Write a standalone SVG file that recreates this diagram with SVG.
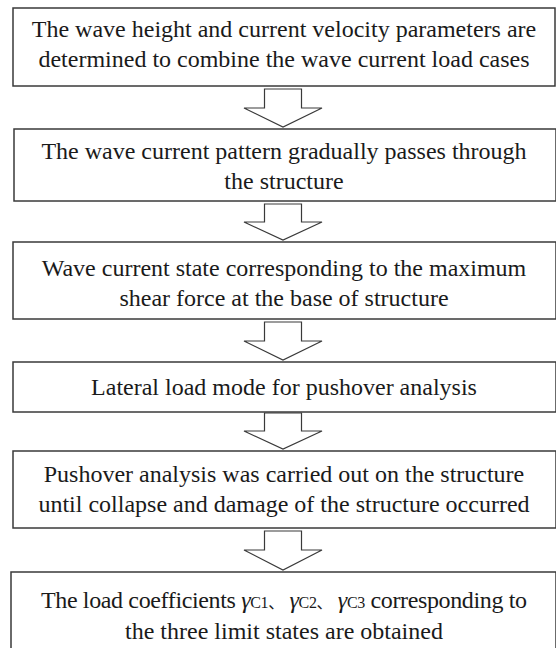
<svg xmlns="http://www.w3.org/2000/svg" width="556" height="648" viewBox="0 0 556 648">
<style>
.box{fill:#fff;stroke:#3a3a3a;stroke-width:1.5}
.arr{fill:#fff;stroke:#3a3a3a;stroke-width:1.2;stroke-linejoin:miter}
.t{font-family:'Liberation Serif','Times New Roman',serif;font-size:24px;fill:#1a1a1a;text-anchor:middle}
.g{font-style:italic}
.s{font-size:16px}
.c{font-family:'Noto Sans CJK SC',sans-serif;font-size:16px}
</style>
<rect width="556" height="648" fill="#fff"/>
<g id="connectors">
<path class="arr" d="M264.5,89 H301.5 V108 H322 L283,127 L244,108 H264.5 Z"/>
<path class="arr" d="M264.5,204 H301.5 V222 H322 L283,240 L244,222 H264.5 Z"/>
<path class="arr" d="M264.5,322 H301.5 V341 H322 L283,360 L244,341 H264.5 Z"/>
<path class="arr" d="M264.5,413 H301.5 V431 H322 L283,449 L244,431 H264.5 Z"/>
<path class="arr" d="M264.5,531 H301.5 V550 H322 L283,570 L244,550 H264.5 Z"/>
</g>
<g id="n1">
<rect class="box" x="13" y="8" width="542" height="78"/>
<text class="t" x="284" y="37">The wave height and current velocity parameters are</text>
<text class="t" x="284" y="67">determined to combine the wave current load cases</text>
</g>
<g id="n2">
<rect class="box" x="14" y="129" width="542" height="72"/>
<text class="t" x="284" y="159">The wave current pattern gradually passes through</text>
<text class="t" x="284" y="189">the structure</text>
</g>
<g id="n3">
<rect class="box" x="13" y="242" width="543" height="77"/>
<text class="t" x="284" y="276">Wave current state corresponding to the maximum</text>
<text class="t" x="284" y="306">shear force at the base of structure</text>
</g>
<g id="n4">
<rect class="box" x="13" y="362" width="543" height="50"/>
<text class="t" x="284" y="395">Lateral load mode for pushover analysis</text>
</g>
<g id="n5">
<rect class="box" x="13" y="451" width="543" height="77"/>
<text class="t" x="284" y="482">Pushover analysis was carried out on the structure</text>
<text class="t" x="284" y="512">until collapse and damage of the structure occurred</text>
</g>
<g id="n6">
<rect class="box" x="11" y="572" width="545" height="80"/>
<text class="t" x="284" y="608" textLength="486" lengthAdjust="spacing">The load coefficients <tspan class="g">γ</tspan><tspan class="s">C1</tspan><tspan class="c">、</tspan> <tspan class="g">γ</tspan><tspan class="s">C2</tspan><tspan class="c">、</tspan> <tspan class="g">γ</tspan><tspan class="s">C3</tspan> corresponding to</text>
<text class="t" x="284" y="639">the three limit states are obtained</text>
</g>
</svg>
